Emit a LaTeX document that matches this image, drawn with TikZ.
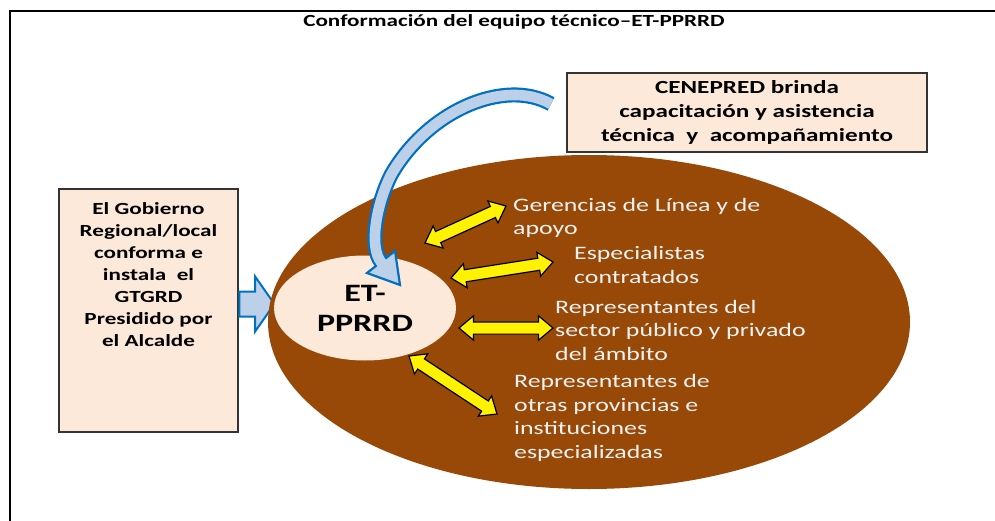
\documentclass[tikz,border=0pt]{standalone}
\usepackage{fontspec}
\setmainfont[FakeStretch=1.36]{Carlito}
\usepackage{tikz}
\usetikzlibrary{shapes.geometric,shapes.arrows,calc}
\definecolor{peach}{HTML}{FDE9D9}
\definecolor{rust}{HTML}{984807}
\definecolor{arrowblue}{HTML}{0070C0}
\definecolor{paleblue}{HTML}{BCD0EA}
\definecolor{lighttext}{HTML}{F2F2F2}
\tikzset{
  infobox/.style={draw=black!80,fill=peach,line width=1.2pt},
  member/.style={anchor=base west,align=left,inner sep=0pt,text=lighttext,
    font=\fontsize{19}{23.5}\selectfont},
  link/.style={double arrow,draw=black,fill=yellow,line width=1.2pt,
    inner xsep=0pt,inner ysep=5.5pt,double arrow head extend=6pt,
    double arrow tip angle=80},
}

\begin{document}
\begin{tikzpicture}[x=1pt,y=-1pt]
\useasboundingbox (0,0) rectangle (995,521);
\draw[line width=2pt] (10,521) |- (995,11);
\node[font=\bfseries\fontsize{17}{20}\selectfont] (title) at (514,22)
  {Conformación del equipo técnico–ET-PPRRD};
% left box (anchor base = last line)
\node[infobox,minimum width=179pt,minimum height=243pt] (gov) at (148.5,310.5) {};
\node[anchor=base,align=center,inner sep=0pt,font=\bfseries\fontsize{17}{22}\selectfont]
  (govtext) at (148.5,346) {El Gobierno\\Regional/local\\conforma e\\instala\ \ el\\GTGRD\\Presidido por\\el Alcalde};
\node[single arrow,fill=paleblue,draw=arrowblue,line width=2pt,inner xsep=0pt,
  inner ysep=11.5pt,minimum height=35pt,single arrow head extend=15pt,
  single arrow tip angle=110] (push) at (252.5,304) {};
% CENEPRED
\node[infobox,minimum width=360pt,minimum height=79pt,align=center,
  font=\bfseries\fontsize{18.5}{24}\selectfont] (cenepred) at (747,112.5)
  {CENEPRED brinda\\capacitación y asistencia\\técnica\ \ y\ \ acompañamiento};
% team
\node[ellipse,fill=rust,minimum width=642pt,minimum height=334pt] (ambit) at (589,322) {};
\node[ellipse,fill=peach,minimum width=182pt,minimum height=105pt,align=center,
  font=\bfseries\fontsize{25}{30}\selectfont] (et) at (365,308) {ET-\\PPRRD};
% curved arrow
\def\bendpath{(551,104) .. controls (505,78) and (428,110) .. (391,175)
  .. controls (376,205) and (369,247) .. (381,262)}
\draw[arrowblue,line width=15pt] \bendpath;
\filldraw[fill=paleblue,draw=arrowblue,line width=2.2pt,line join=miter]
  (395,251) -- (400,285) -- (367,273) -- cycle;
\draw[paleblue,line width=10.6pt] \bendpath -- (382.5,264);
% members (anchor base = last line)
\node[member] (lines) at (513,235) {Gerencias de Línea y de\\apoyo};
\node[member] (hired) at (574,283) {Especialistas\\contratados};
\node[member] (sectors) at (555,360) {Representantes del\\sector público y privado\\del ámbito};
\node[member] (provinces) at (514,458) {Representantes de\\otras provincias e\\instituciones\\especializadas};
\foreach \ax/\ay/\bx/\by [count=\i] in {425/243/506/206, 451/278/553/262,
    459/328/553/328, 409/356/497/414}
  \path let \p1=($(\bx,\by)-(\ax,\ay)$), \n1={atan2(\y1,\x1)}, \n2={veclen(\x1,\y1)} in
    node[link,minimum height=\n2,rotate=\n1] (link\i) at ($(\ax,\ay)!0.5!(\bx,\by)$) {};
\end{tikzpicture}
\end{document}
